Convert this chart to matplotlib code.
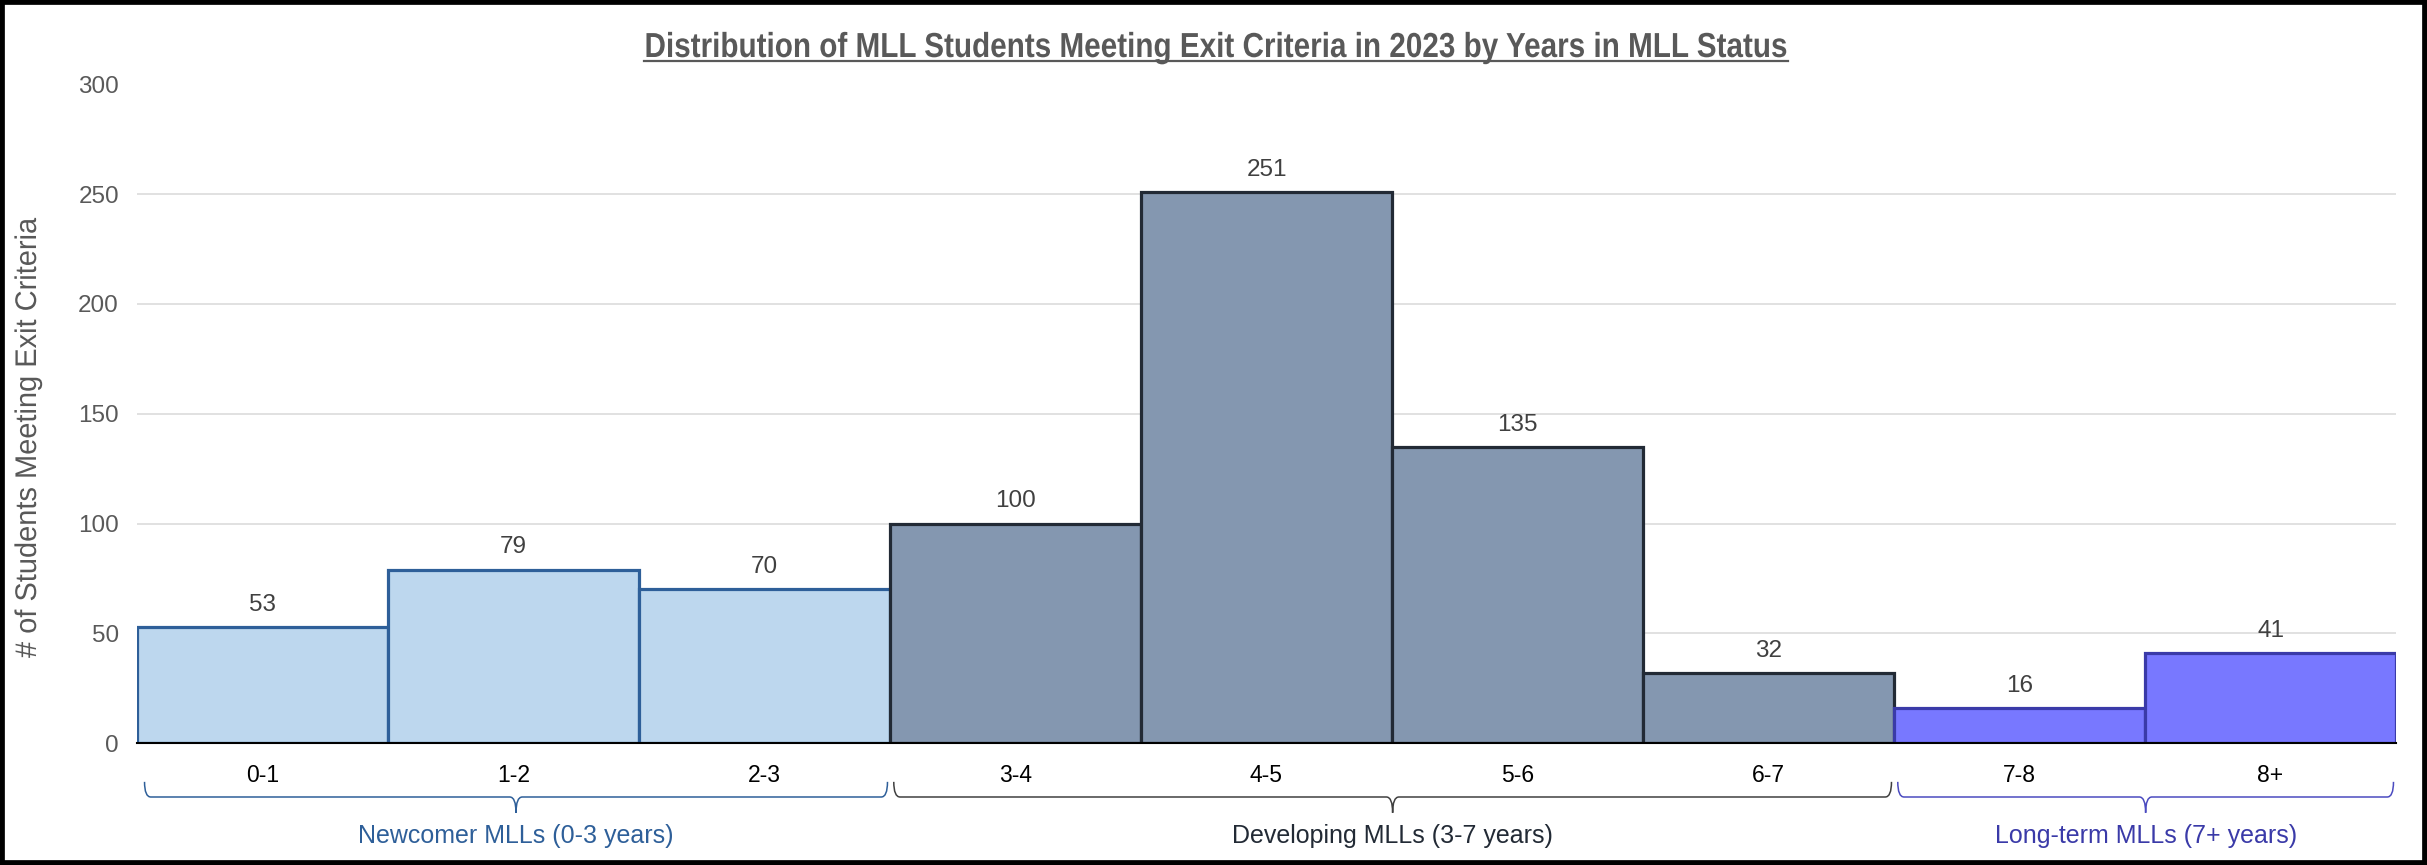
import matplotlib
matplotlib.use("Agg")
import matplotlib.pyplot as plt
from matplotlib.path import Path
from matplotlib.patches import PathPatch, Rectangle
from matplotlib.lines import Line2D
from matplotlib.patheffects import AbstractPathEffect
import matplotlib.transforms as mtransforms

# ---- data ----
categories = ["0-1", "1-2", "2-3", "3-4", "4-5", "5-6", "6-7", "7-8", "8+"]
values = [53, 79, 70, 100, 251, 135, 32, 16, 41]
groups = ["Newcomer MLLs (0-3 years)", "Developing MLLs (3-7 years)", "Long-term MLLs (7+ years)"]
group_members = [[0, 1, 2], [3, 4, 5, 6], [7, 8]]
title = "Distribution of MLL Students Meeting Exit Criteria in 2023 by Years in MLL Status"
ylabel = "# of Students Meeting Exit Criteria"
yticks = [0, 50, 100, 150, 200, 250, 300]

# ---- styles ----
fills = ["#BDD7EE", "#8497B0", "#7878FF"]
edges = ["#2E5F99", "#222A35", "#3A3AA8"]
label_colors = ["#2E5F99", "#222A35", "#3A3AA8"]
brace_colors = ["#2E5F99", "#404040", "#4B4BC0"]

plt.rcParams['font.family'] = ['Liberation Sans', 'DejaVu Sans']


class Squeeze(AbstractPathEffect):
    """Compress text glyphs along one display axis (narrow-font look)."""
    def __init__(self, factor=1.0, center=0.0, axis="x"):
        super().__init__()
        self.factor, self.center, self.axis = factor, center, axis

    def draw_path(self, renderer, gc, tpath, affine, rgbFace=None):
        c = self.center
        if self.axis == "x":
            t = mtransforms.Affine2D().translate(-c, 0).scale(self.factor, 1).translate(c, 0)
        else:
            t = mtransforms.Affine2D().translate(0, -c).scale(1, self.factor).translate(0, c)
        renderer.draw_path(gc, tpath, affine + t, rgbFace)


W, H = 2427, 865
fig = plt.figure(figsize=(W / 100, H / 100), dpi=100)
ax_l, ax_r, ax_b, ax_t = 137, 2396, 743, 84.5
ax = fig.add_axes([ax_l / W, 1 - ax_b / H, (ax_r - ax_l) / W, (ax_b - ax_t) / H])

x = list(range(len(categories)))
for gi, members in enumerate(group_members):
    ax.bar([x[i] for i in members], [values[i] for i in members], width=1.0,
           color=fills[gi], edgecolor=edges[gi], linewidth=2.3, zorder=3)

for xi, v in zip(x, values):
    ax.annotate(str(v), (xi, v), xytext=(0, 8), textcoords="offset points",
                ha="center", va="bottom", fontsize=17.5, color="#404040", zorder=5)

ax.set_xlim(-0.5, len(categories) - 0.5)
ax.set_ylim(0, 300)
ax.set_yticks(yticks)
ax.yaxis.grid(True, color="#D9D9D9", linewidth=1.1, zorder=0)
ax.set_axisbelow(True)
ax.tick_params(axis="y", length=0, pad=13, labelsize=17.5, labelcolor="#595959")
ax.set_xticks(x)
ax.set_xticklabels(categories, fontsize=16.5, color="#000000")
ax.tick_params(axis="x", length=0, pad=15)
for s in ["left", "right", "top"]:
    ax.spines[s].set_visible(False)
ax.spines["bottom"].set_color("#000000")
ax.spines["bottom"].set_linewidth(1.5)
ax.spines["bottom"].set_zorder(6)

# braces
trans = mtransforms.blended_transform_factory(ax.transData, ax.transAxes)
yt, yb, ytip = -0.059, -0.082, -0.106
dx = 0.025
brace_ext = [(-0.47, 2.49), (2.515, 6.49), (6.515, 8.49)]
group_texts = []
for gi, (x0, x1) in enumerate(brace_ext):
    xm = (x0 + x1) / 2
    verts = [(x0, yt), (x0, yb), (x0 + dx, yb),
             (xm - dx, yb), (xm, yb), (xm, ytip),
             (xm, yb), (xm + dx, yb),
             (x1 - dx, yb), (x1, yb), (x1, yt)]
    codes = [Path.MOVETO, Path.CURVE3, Path.CURVE3,
             Path.LINETO, Path.CURVE3, Path.CURVE3,
             Path.CURVE3, Path.CURVE3,
             Path.LINETO, Path.CURVE3, Path.CURVE3]
    ax.add_patch(PathPatch(Path(verts, codes), transform=trans, fill=False,
                           edgecolor=brace_colors[gi], linewidth=1.1, clip_on=False))
    group_texts.append(ax.text(xm, -0.141, groups[gi], transform=trans, ha="center",
                               va="center", fontsize=17, color=label_colors[gi]))

# title and y label (narrow look)
t = fig.text(1216 / W, 1 - 57 / H, title, ha="center", va="baseline",
             fontsize=25, fontweight="bold", color="#595959")
yl = fig.text(28 / W, 1 - 437.5 / H, ylabel, rotation=90, ha="center", va="center",
              fontsize=21.5, color="#595959")

fig.canvas.draw()
r = fig.canvas.get_renderer()

# group labels: fit to measured width
bb = group_texts[0].get_window_extent(r)
s = group_texts[0].get_fontsize() * 315 / bb.width
for g in group_texts:
    g.set_fontsize(s)

# title: squeeze to reference width
bb = t.get_window_extent(r)
tw = 1143
cx = (bb.x0 + bb.x1) / 2
t.set_path_effects([Squeeze(tw / bb.width, cx, "x")])
uy = 1 - 61 / H
fig.add_artist(Line2D([(cx - tw / 2) / W, (cx + tw / 2) / W], [uy, uy],
                      transform=fig.transFigure, color="#595959", linewidth=1.6))

# y label: squeeze along its length
bb = yl.get_window_extent(r)
cy = (bb.y0 + bb.y1) / 2
yl.set_path_effects([Squeeze(441 / bb.height, cy, "y")])

fig.add_artist(Rectangle((0, 0), 1, 1, transform=fig.transFigure, fill=False,
                         edgecolor="black", linewidth=7))

fig.savefig("out.png", dpi=100)
